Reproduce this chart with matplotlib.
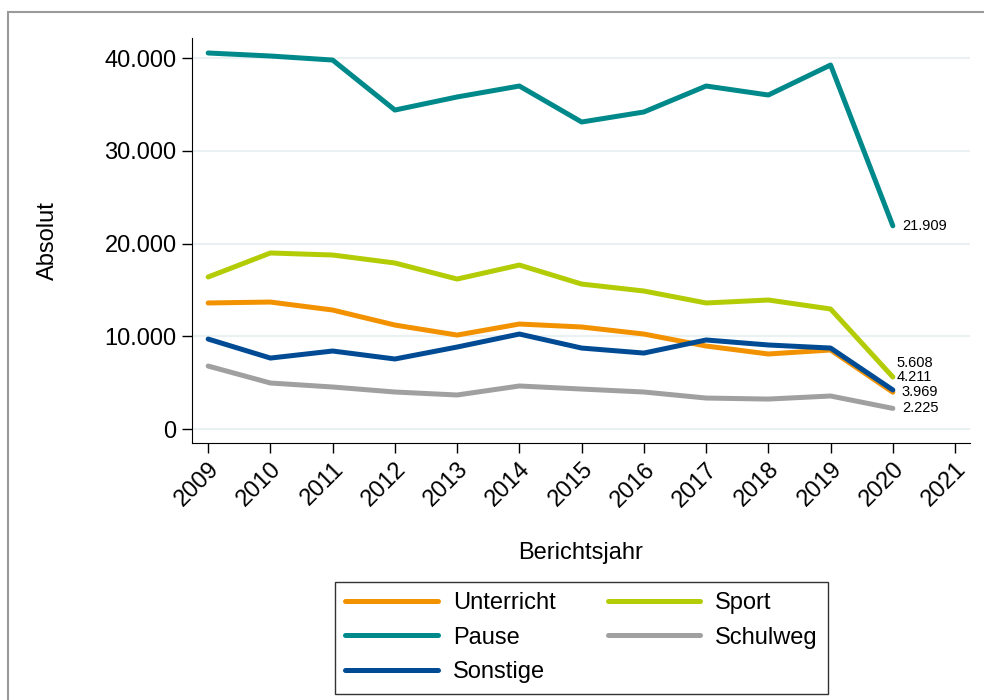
import matplotlib
matplotlib.use("Agg")
import matplotlib.pyplot as plt
from matplotlib.patches import Rectangle

plt.rcParams["font.family"] = ["Liberation Sans", "DejaVu Sans"]

years = [2009, 2010, 2011, 2012, 2013, 2014, 2015, 2016, 2017, 2018, 2019, 2020]
unterricht = [13590, 13690, 12830, 11210, 10130, 11320, 11000, 10240, 8950, 8090, 8520, 3969]
pause = [40540, 40215, 39780, 34390, 35800, 36980, 33100, 34180, 36980, 36010, 39245, 21909]
sonstige = [9700, 7650, 8410, 7550, 8840, 10240, 8730, 8190, 9600, 9060, 8730, 4211]
sport = [16390, 18980, 18760, 17900, 16170, 17680, 15630, 14880, 13590, 13910, 12940, 5608]
schulweg = [6790, 4960, 4530, 3990, 3670, 4640, 4310, 3990, 3340, 3230, 3560, 2225]

xticks = list(range(2009, 2022))
yticks = [0, 10000, 20000, 30000, 40000]
ytick_labels = ["0", "10.000", "20.000", "30.000", "40.000"]

series = [
    ("Unterricht", unterricht, "#f39200"),
    ("Pause", pause, "#00898a"),
    ("Sonstige", sonstige, "#004b93"),
    ("Sport", sport, "#b3cc06"),
    ("Schulweg", schulweg, "#a0a0a0"),
]
# label offsets (px) for the 2020 end values
offsets = {"Unterricht": (9, 0), "Pause": (9, 0), "Sonstige": (4, 13),
           "Sport": (4, 14), "Schulweg": (9, 0)}

fig = plt.figure(figsize=(9.84, 7), dpi=100)
ax = fig.add_axes([0.1951, 0.3671, 0.7907, 0.5786])

for name, vals, col in series:
    ax.plot(years, vals, color=col, lw=3.6, label=name, solid_capstyle="round")

for name, vals, col in series:
    dx, dy = offsets[name]
    ax.annotate(f"{vals[-1]:,}".replace(",", "."), (years[-1], vals[-1]),
                xytext=(dx * 0.72, dy * 0.72), textcoords="offset points",
                ha="left", va="center", fontsize=10.5)

ax.set_xlim(2008.74, 2021.24)
ax.set_ylim(-1510, 42156)
ax.set_xticks(xticks)
ax.set_xticklabels([str(y) for y in xticks], rotation=45, ha="right",
                   rotation_mode="anchor", fontsize=17)
ax.set_yticks(yticks)
ax.set_yticklabels(ytick_labels, fontsize=17)
ax.tick_params(direction="out", length=7, width=1, pad=4)
ax.grid(axis="y", color="#e9f1f3", lw=1.5)
ax.set_axisbelow(True)
for s in ["top", "right"]:
    ax.spines[s].set_visible(False)

ax.set_ylabel("Absolut", fontsize=17, labelpad=33)
ax.set_xlabel("Berichtsjahr", fontsize=17, labelpad=22)

leg = fig.legend(ncol=2, loc="upper center", bbox_to_anchor=(0.591, 0.169),
                 borderaxespad=0, fontsize=17, frameon=True, fancybox=False,
                 edgecolor="black", handlelength=3.9, handletextpad=0.65,
                 columnspacing=2.2, labelspacing=0.52, borderpad=0.45)
leg.get_frame().set_linewidth(1)

fig.patches.append(Rectangle((0.008, -0.1), 1.2, 0.983 + 0.1,
                             transform=fig.transFigure, fill=False,
                             edgecolor="#9a9a9a", lw=1.5, clip_on=False))

plt.savefig("out.png", dpi=100)
plt.close()
